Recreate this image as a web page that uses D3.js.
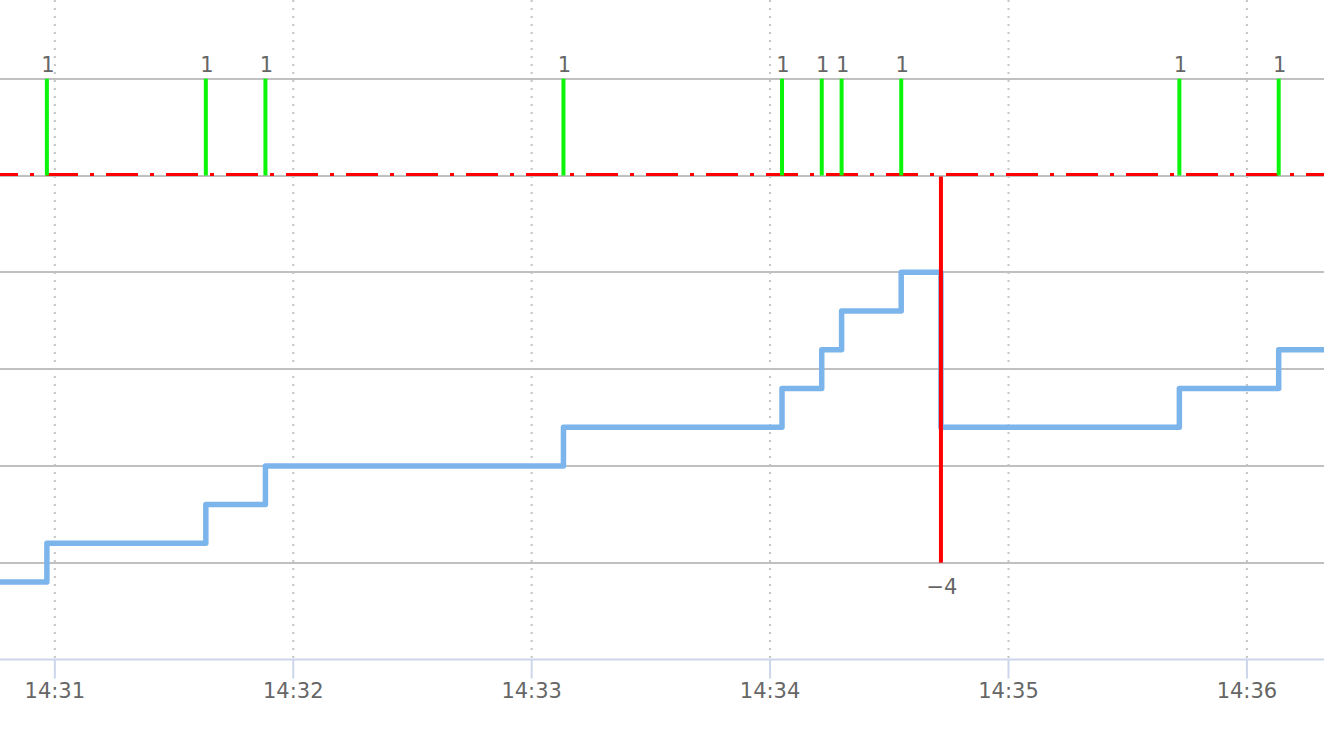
<!DOCTYPE html>
<html>
<head>
<meta charset="utf-8">
<script src="https://cdn.jsdelivr.net/npm/d3@7/dist/d3.min.js"></script>
<style>
  html, body { margin: 0; padding: 0; background: #fff; }
  svg { display: block; font-family: "DejaVu Sans", sans-serif; }
</style>
</head>
<body>
<script>
// chart data
const viewStart = "14:30:46.2";
const viewEnd = "14:36:19.4";
const eventTimes = ["14:30:58", "14:31:38", "14:31:53", "14:33:08", "14:34:03", "14:34:13",
  "14:34:18", "14:34:33", "14:34:43", "14:35:43", "14:36:08"];
const eventValues = [1, 1, 1, 1, 1, 1, 1, 1, -4, 1, 1];
const startLevel = -4.2;
const levelValues = [-3.8, -3.4, -3.0, -2.6, -2.2, -1.8, -1.4, -1.0, -2.6, -2.2, -1.8];
const yGridValues = [-4, -3, -2, -1, 0, 1];
const yAxisMin = -5;

const width = 1324;
const height = 738;

const parseTime = (s) => {
  const [h, m, sec] = s.split(":");
  return new Date(2020, 0, 1, +h, +m, 0, Math.round(+sec * 1000));
};

const x = d3.scaleTime()
  .domain([parseTime(viewStart), parseTime(viewEnd)])
  .range([0, width]);

const y = d3.scaleLinear()
  .domain([yAxisMin, 1])
  .range([659.5, 78.7]);

const svg = d3.select("body")
  .append("svg")
  .attr("width", width)
  .attr("height", height)
  .attr("viewBox", [0, 0, width, height]);

// horizontal grid lines
svg.append("g")
  .attr("stroke", "#c0c0c0")
  .attr("stroke-width", 2)
  .selectAll("line")
  .data(yGridValues)
  .join("line")
  .attr("x1", 0)
  .attr("x2", width)
  .attr("y1", (d) => Math.round(y(d)))
  .attr("y2", (d) => Math.round(y(d)));

// vertical dotted grid lines
const ticks = x.ticks(d3.timeMinute.every(1));
svg.append("g")
  .attr("stroke", "#c4c4c4")
  .attr("stroke-width", 2)
  .attr("stroke-dasharray", "2,6")
  .selectAll("line")
  .data(ticks)
  .join("line")
  .attr("x1", (d) => x(d))
  .attr("x2", (d) => x(d))
  .attr("y1", 0)
  .attr("y2", y(yAxisMin));

// zero plot line (long dash dot)
svg.append("line")
  .attr("x1", 0)
  .attr("x2", width)
  .attr("y1", y(0) - 1)
  .attr("y2", y(0) - 1)
  .attr("stroke", "#ff0000")
  .attr("stroke-width", 3)
  .attr("stroke-dasharray", "32,12,4,12")
  .attr("stroke-dashoffset", 14);

// step line
const levelPoints = [{ t: parseTime(viewStart), v: startLevel }]
  .concat(eventTimes.map((t, i) => ({ t: parseTime(t), v: levelValues[i] })))
  .concat([{ t: parseTime(viewEnd), v: levelValues[levelValues.length - 1] }]);

const line = d3.line()
  .x((d) => x(d.t))
  .y((d) => y(d.v))
  .curve(d3.curveStepAfter);

svg.append("path")
  .datum(levelPoints)
  .attr("fill", "none")
  .attr("stroke", "#7cb5ec")
  .attr("stroke-width", 5.5)
  .attr("stroke-linejoin", "round")
  .attr("d", line);

// columns
const events = eventTimes.map((t, i) => ({ t: parseTime(t), v: eventValues[i] }));

svg.append("g")
  .selectAll("rect")
  .data(events)
  .join("rect")
  .attr("x", (d) => x(d.t) - 2)
  .attr("width", 4)
  .attr("y", (d) => (d.v > 0 ? y(d.v) : y(0) + 1))
  .attr("height", (d) => Math.abs(y(d.v) - y(0)) - (d.v > 0 ? 0 : 1))
  .attr("fill", (d) => (d.v > 0 ? "#0af50a" : "#ff0000"));

// data labels
svg.append("g")
  .attr("fill", "#666666")
  .attr("font-size", 21)
  .attr("text-anchor", "middle")
  .selectAll("text")
  .data(events)
  .join("text")
  .attr("x", (d) => x(d.t) + 1)
  .attr("y", (d) => (d.v > 0 ? y(d.v) - 7 : y(d.v) + 31))
  .text((d) => (d.v < 0 ? "\u2212" + Math.abs(d.v) : d.v));

// x axis
const axis = svg.append("g");
axis.append("line")
  .attr("x1", 0)
  .attr("x2", width)
  .attr("y1", y(yAxisMin))
  .attr("y2", y(yAxisMin))
  .attr("stroke", "#ccd6eb")
  .attr("stroke-width", 2);

axis.append("g")
  .attr("stroke", "#ccd6eb")
  .attr("stroke-width", 2)
  .selectAll("line")
  .data(ticks)
  .join("line")
  .attr("x1", (d) => x(d))
  .attr("x2", (d) => x(d))
  .attr("y1", y(yAxisMin))
  .attr("y2", y(yAxisMin) + 19);

axis.append("g")
  .attr("fill", "#666666")
  .attr("font-size", 21)
  .attr("text-anchor", "middle")
  .selectAll("text")
  .data(ticks)
  .join("text")
  .attr("x", (d) => x(d))
  .attr("y", 698)
  .text(d3.timeFormat("%H:%M"));
</script>
</body>
</html>
